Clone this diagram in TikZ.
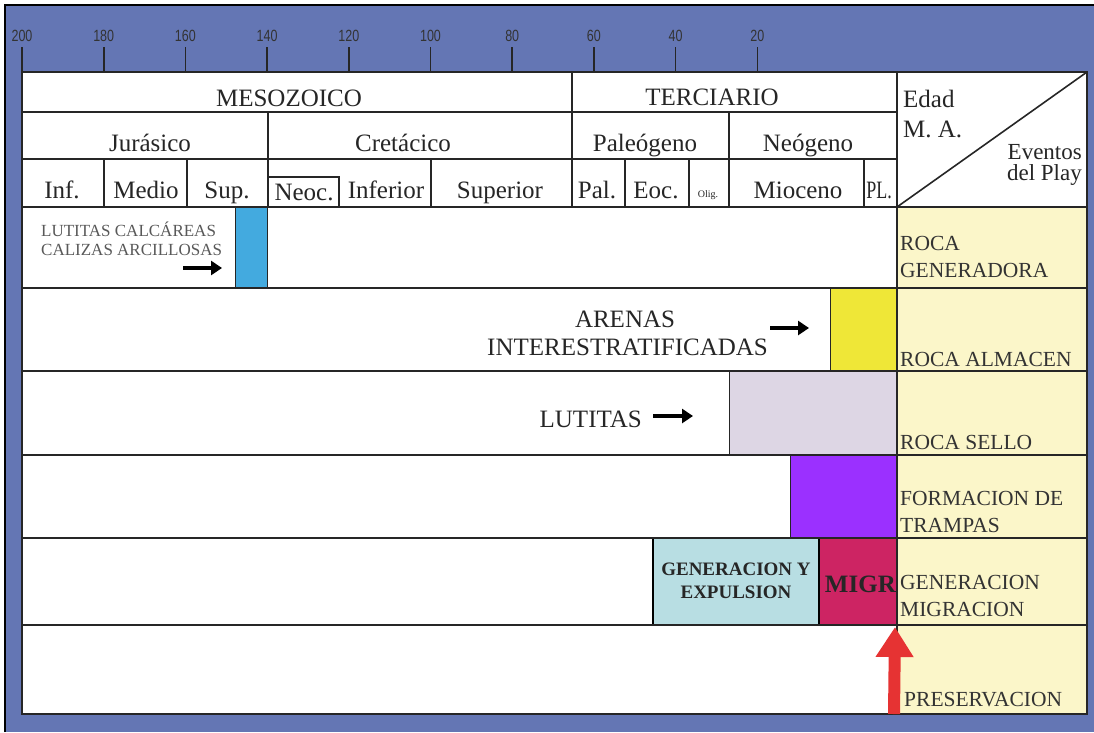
\documentclass[tikz,border=0pt]{standalone}
\usepackage{fontspec}
\usepackage{graphicx}
\setmainfont{Liberation Serif}
\setsansfont{Liberation Sans}
\usetikzlibrary{arrows.meta}

\definecolor{fondo}{HTML}{6476B4}
\definecolor{linea}{HTML}{262626}
\definecolor{crema}{HTML}{FBF6C9}
\definecolor{celeste}{HTML}{43AADF}
\definecolor{amarillo}{HTML}{EFE737}
\definecolor{lila}{HTML}{DDD6E4}
\definecolor{violeta}{HTML}{9B30FF}
\definecolor{turquesa}{HTML}{B8DEE3}
\definecolor{carmin}{HTML}{CD2463}
\definecolor{rojoflecha}{HTML}{E63333}

\begin{document}
\begin{tikzpicture}[x=1pt,y=-1pt]

        \tikzstyle{rotulo}=[font=\fontsize{25}{25}\selectfont,text=black!85,inner sep=0pt,anchor=base]
        \tikzstyle{evento}=[font=\fontsize{21.5}{27}\selectfont,text=black!80,inner sep=0pt,anchor=base west,align=left]
        \tikzstyle{roca}=[font=\fontsize{17}{19}\selectfont,text=black!65,inner sep=0pt,anchor=base west]
        \tikzstyle{barra}=[draw=linea,line width=1pt]
        \tikzstyle{rejilla}=[draw=linea,line width=1.6pt]
        \tikzstyle{flechita}=[line width=4pt,-{Triangle[length=11pt,width=14pt]}]

        \useasboundingbox (0,0) rectangle (1094,732);

        %% Marco azul
        \fill[white] (0,0) rectangle (1094,732);
        \fill[fondo] (5,5) rectangle (1094,732);
        \draw[line width=2.5pt] (5,732) -- (5,5) -- (1094,5);

        %% Escala de edades (M.A.)
        \foreach \edad [count=\i from 0] in {200,180,...,20} {
            \draw[line width=1.6pt,linea] (22+\i*81.7,47) -- (22+\i*81.7,72);
            \node[font=\sffamily\fontsize{12.5}{12.5}\selectfont,text=black!80,inner sep=0pt] (e\edad) at (22+\i*81.7,36) {\scalebox{1}[1.3]{\edad}};
        }

        %% Fondo de la tabla
        \fill[white] (22,72) rectangle (1087,714);
        \fill[crema] (897,207) rectangle (1087,714);

        %% Barras de los eventos
        \filldraw[barra,fill=celeste] (235,207) rectangle (267,288);
        \filldraw[barra,fill=amarillo] (830,288) rectangle (897,371);
        \filldraw[barra,fill=lila] (729,371) rectangle (897,455);
        \filldraw[barra,fill=violeta] (790,455) rectangle (897,538);
        \filldraw[barra,fill=carmin] (819,538) rectangle (897,625);
        \filldraw[fill=turquesa,draw=black,line width=2.5pt] (653,538) rectangle (819,625);

        %% Rejilla
        \draw[rejilla] (22,72) rectangle (1087,714);
        \foreach \y in {207,288,371,455,538,625}
            \draw[rejilla] (22,\y) -- (1087,\y);
        \foreach \y in {112,159}
            \draw[rejilla] (22,\y) -- (897,\y);
        \draw[rejilla] (897,72) -- (897,714);
        \draw[rejilla] (572,72) -- (572,207);
        \foreach \x in {268,729}
            \draw[rejilla] (\x,112) -- (\x,207);
        \foreach \x in {104,187,431,625,689,864}
            \draw[rejilla] (\x,159) -- (\x,207);
        \draw[rejilla] (268,177) -- (339,177) -- (339,207);
        \draw[rejilla] (897,207) -- (1087,72);

        %% Eras, periodos y epocas
        \node[rotulo] (mesozoico) at (289,106) {MESOZOICO};
        \node[rotulo] (terciario) at (712,105) {TERCIARIO};
        \node[rotulo] (jurasico) at (150,151) {Jurásico};
        \node[rotulo] (cretacico) at (403,151) {Cretácico};
        \node[rotulo] (paleogeno) at (645,151) {Paleógeno};
        \node[rotulo] (neogeno) at (808,151) {Neógeno};
        \node[rotulo] (inf) at (62,198) {Inf.};
        \node[rotulo] (medio) at (146,198) {Medio};
        \node[rotulo] (sup) at (227,198) {Sup.};
        \node[rotulo] (neoc) at (304,200) {Neoc.};
        \node[rotulo] (inferior) at (386,198) {Inferior};
        \node[rotulo] (superior) at (500,198) {Superior};
        \node[rotulo] (pal) at (597,198) {Pal.};
        \node[rotulo] (eoc) at (656,198) {Eoc.};
        \node[rotulo,font=\fontsize{10}{10}\selectfont] (olig) at (708,197) {Olig.};
        \node[rotulo] (mioceno) at (798,198) {Mioceno};
        \node[rotulo] (pl) at (879,198) {\scalebox{0.72}[1]{PL.}};

        %% Cabecera de la columna de eventos
        \node[rotulo,anchor=base west] (edad) at (903,107) {Edad};
        \node[rotulo,anchor=base west] (ma) at (903,137) {M. A.};
        \node[rotulo,anchor=base east,align=right,font=\fontsize{23}{21}\selectfont] (eventos) at (1082,180) {Eventos\\del Play};

        %% Eventos del play (la base es la de la ultima linea)
        \node[evento] (generadora) at (900,277) {ROCA\\GENERADORA};
        \node[evento] (almacen) at (900,366) {ROCA ALMACEN};
        \node[evento] (sello) at (900,449) {ROCA SELLO};
        \node[evento] (trampas) at (900,532) {FORMACION DE\\TRAMPAS};
        \node[evento] (migracion) at (900,616) {GENERACION\\MIGRACION};
        \node[evento] (preservacion) at (904,706) {PRESERVACION};

        %% Litologias
        \node[roca] (calcareas) at (41,236) {LUTITAS CALCÁREAS};
        \node[roca] (arcillosas) at (41,255) {CALIZAS ARCILLOSAS};
        \node[rotulo] (arenas) at (625,327) {ARENAS};
        \node[rotulo,anchor=base east] (interestrat) at (768,355) {INTERESTRATIFICADAS};
        \node[rotulo,anchor=base east] (lutitas) at (642,427) {LUTITAS};

        \node[rotulo,font=\bfseries\fontsize{19}{19}\selectfont] (genexp1) at (736,575) {GENERACION Y};
        \node[rotulo,font=\bfseries\fontsize{19}{19}\selectfont] (genexp2) at (736,598) {EXPULSION};
        \node[rotulo,anchor=base east,font=\bfseries\fontsize{25}{25}\selectfont] (migr) at (896,592) {MIGR};

        %% Flechas
        \coordinate (c1) at (183,268);
        \coordinate (c2) at (222,268);
        \coordinate (a1) at (770,328);
        \coordinate (a2) at (809,328);
        \coordinate (l1) at (653,416);
        \coordinate (l2) at (693,416);
        \draw[flechita] (c1) -- (c2);
        \draw[flechita] (a1) -- (a2);
        \draw[flechita] (l1) -- (l2);

        \coordinate (pie) at (894,714);
        \coordinate (punta) at (895,627);
        \draw[rojoflecha,line width=12pt,-{Triangle[length=30pt,width=36pt]}] (pie) -- (punta);

\end{tikzpicture}
\end{document}
